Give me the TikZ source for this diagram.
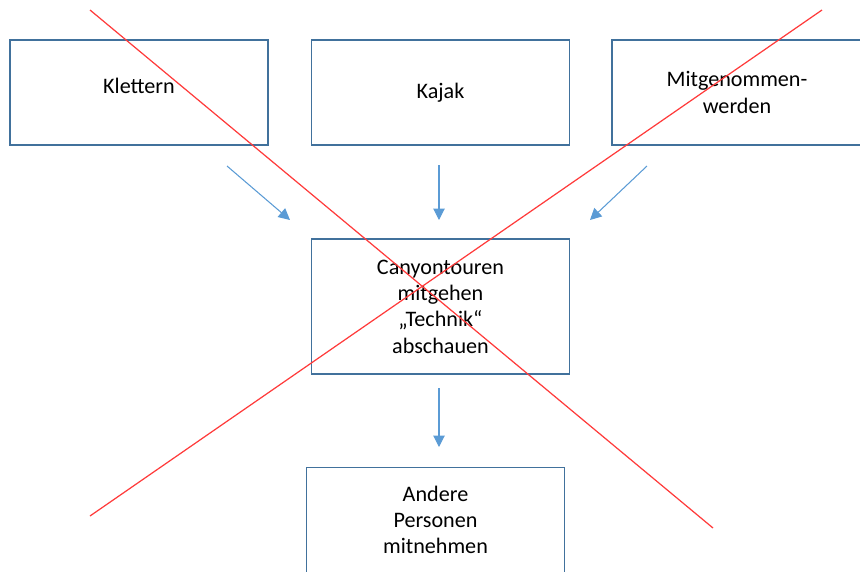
\documentclass[tikz,border=0pt]{standalone}
\usepackage{fontspec}
\setmainfont{Carlito}
\usepackage{tikz}
\usetikzlibrary{arrows.meta}
\definecolor{boxblue}{HTML}{41719C}
\definecolor{arrowblue}{HTML}{5B9BD5}
\definecolor{crossred}{HTML}{FF3B3B}

\begin{document}
\begin{tikzpicture}[x=0.02cm, y=-0.02cm,
    box/.style={draw=boxblue, line width=1.1pt, align=center, minimum width=5.16cm, minimum height=2.1cm, font=\fontsize{12.6}{15}\selectfont},
    pfeil/.style={draw=arrowblue, line width=0.6pt, -{Triangle[width=6.5pt,length=6.5pt]}},
    kreuz/.style={draw=crossred, line width=0.7pt}]
         \useasboundingbox (0,0) rectangle (860,572);
         \clip (0,0) rectangle (860,572);
          \node[box] (klettern) at (139,92.5) {\raisebox{3.7pt}[\height][\depth]{Klettern}};
          \node[box] (kajak) at (440.5,92.5) {Kajak};
          \node[box, minimum width=5cm] (mitgenommen) at (737,92.5) {Mitgenommen-\\werden};
          \node[box, minimum height=2.7cm] (canyon) at (440.5,306.5) {Canyontouren\\mitgehen\\„Technik“\\abschauen};
          \node[box] (andere) at (435.5,520) {Andere\\Personen\\mitnehmen};
          % Pfeile
          \coordinate (a1) at (227,166); \coordinate (b1) at (290,220);
          \coordinate (a2) at (439,165); \coordinate (b2) at (439,220);
          \coordinate (a3) at (647,166); \coordinate (b3) at (590,220);
          \coordinate (a4) at (439,388); \coordinate (b4) at (439,447);
          \draw[pfeil] (a1) -- (b1);
          \draw[pfeil] (a2) -- (b2);
          \draw[pfeil] (a3) -- (b3);
          \draw[pfeil] (a4) -- (b4);
          % durchgestrichen
          \coordinate (k1) at (90,10); \coordinate (k2) at (713,528);
          \coordinate (k3) at (822,10); \coordinate (k4) at (90,516);
          \draw[kreuz] (k1) -- (k2);
          \draw[kreuz] (k3) -- (k4);
      \end{tikzpicture}
\end{document}
